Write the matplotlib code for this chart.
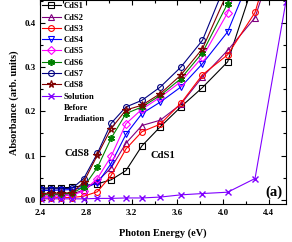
import matplotlib
matplotlib.use('Agg')
import matplotlib.pyplot as plt
from matplotlib.ticker import MultipleLocator

plt.rcParams['font.family'] = ['Liberation Serif', 'DejaVu Serif']
plt.rcParams['font.weight'] = 'bold'
plt.rcParams['axes.labelweight'] = 'bold'

# photon energy (eV) of the measured points
energy = [2.41, 2.49, 2.58, 2.68, 2.78, 2.90, 3.02, 3.15, 3.29, 3.45, 3.63, 3.82, 4.04, 4.28, 4.55]

# absorbance (arb. units)
cds1 = [0.026, 0.027, 0.027, 0.028, 0.032, 0.036, 0.045, 0.066, 0.122, 0.165, 0.210, 0.254, 0.312, 0.50, 0.75]
cds2 = [0.011, 0.011, 0.012, 0.013, 0.022, 0.042, 0.072, 0.128, 0.168, 0.180, 0.216, 0.278, 0.338, 0.412, 0.63]
cds3 = [0.004, 0.004, 0.005, 0.005, 0.008, 0.018, 0.055, 0.115, 0.154, 0.171, 0.218, 0.283, 0.328, 0.424, 0.66]
cds4 = [0.021, 0.021, 0.022, 0.023, 0.028, 0.037, 0.082, 0.148, 0.195, 0.221, 0.255, 0.308, 0.380, 0.53, 0.80]
cds5 = [0.008, 0.008, 0.009, 0.010, 0.020, 0.048, 0.098, 0.172, 0.205, 0.232, 0.267, 0.323, 0.423, 0.60, 0.85]
cds6 = [0.012, 0.013, 0.013, 0.015, 0.029, 0.073, 0.139, 0.195, 0.210, 0.236, 0.274, 0.333, 0.444, 0.65, 0.90]
cds7 = [0.024, 0.025, 0.025, 0.026, 0.048, 0.105, 0.173, 0.210, 0.225, 0.255, 0.300, 0.361, 0.50, 0.70, 0.95]
cds8 = [0.014, 0.015, 0.015, 0.016, 0.040, 0.101, 0.161, 0.203, 0.214, 0.240, 0.282, 0.342, 0.47, 0.68, 0.92]
solution = [0.002, 0.002, 0.002, 0.002, 0.002, 0.003, 0.003, 0.004, 0.004, 0.006, 0.011, 0.014, 0.017, 0.048, 0.448]

fig = plt.figure(figsize=(2.92, 2.42), dpi=100)
ax = fig.add_axes([0.138, 0.157, 0.841, 0.841])

common = dict(lw=0.8, ms=4.2, mew=0.8, fillstyle='none')
ax.plot(energy, cds1, color='black', marker='s', label='CdS1', **common)
ax.plot(energy, cds2, color='#800080', marker='^', label='CdS2', **common)
ax.plot(energy, cds3, color='#FF0000', marker='o', label='CdS3', **common)
ax.plot(energy, cds4, color='#0000FF', marker='v', label='CdS4', **common)
ax.plot(energy, cds5, color='#FF00FF', marker='D', label='CdS5', lw=0.8, ms=3.6, mew=0.8, fillstyle='none')
ax.plot(energy, cds6, color='#008000', marker=(6, 2, 0), label='CdS6', lw=0.8, ms=5, mew=1.2)
ax.plot(energy, cds7, color='#000080', marker='o', label='CdS7', **common)
ax.plot(energy, cds8, color='#800000', marker='*', label='CdS8', lw=0.8, ms=5.5, mew=0.9, fillstyle='none')
ax.plot(energy, solution, color='#8000FF', marker='x', label='Solution', lw=0.8, ms=4.5, mew=1.0)
# extra legend rows for the wrapped label
ax.plot([], [], ' ', label='Before')
ax.plot([], [], ' ', label='Irradiation')

ax.set_xlim(2.4, 4.55)
ax.set_ylim(-0.0097, 0.451)
ax.xaxis.set_major_locator(MultipleLocator(0.4))
ax.xaxis.set_minor_locator(MultipleLocator(0.2))
ax.yaxis.set_major_locator(MultipleLocator(0.1))
ax.yaxis.set_minor_locator(MultipleLocator(0.05))
ax.tick_params(which='both', direction='in', top=True, right=True, labelsize=6.5, width=0.8)
ax.tick_params(which='major', length=3.5)
ax.tick_params(which='minor', length=2)
for s in ax.spines.values():
    s.set_linewidth(0.8)

ax.set_xlabel('Photon Energy (eV)', fontsize=7.4, fontweight='bold', labelpad=8)
ax.set_ylabel('Absorbance (arb. units)', fontsize=7.4, fontweight='bold', labelpad=4)

ax.text(2.725, 0.105, 'CdS8', fontsize=7.7, fontweight='bold', ha='center', va='center')
ax.text(3.47, 0.101, 'CdS1', fontsize=7.7, fontweight='bold', ha='center', va='center')
ax.text(4.445, 0.018, '(a)', fontsize=10.5, fontweight='bold', ha='center', va='center')

ax.legend(loc='upper left', frameon=False, prop={'size': 6.2, 'weight': 'bold'}, handlelength=2.2,
          handletextpad=0.3, labelspacing=0.38, borderaxespad=0.1, borderpad=0.1)

fig.savefig('out.png', dpi=100)
